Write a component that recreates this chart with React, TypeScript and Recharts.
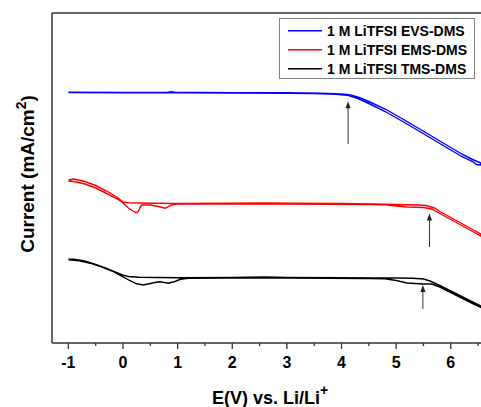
import React from 'react';
import { LineChart, Line, XAxis, YAxis, Legend, ReferenceLine, ReferenceDot } from 'recharts';

const FONT = '"Liberation Sans", Arial, Helvetica, sans-serif';

// Potential (V vs. Li/Li+) and current (offset, arbitrary units) – forward sweep then reverse sweep
const evsVoltage = [-1, 0, 0.8, 0.88, 0.95, 2, 3, 3.6, 3.9, 4.1, 4.2, 4.35, 4.5, 4.8, 5.2, 5.6, 6.0, 6.2, 6.4, 6.55,
  6.55, 6.47, 6.4, 6.2, 6.0, 5.6, 5.2, 4.8, 4.5, 4.3, 4.1, 3.9, 3.5, 3, 2, 1, 0, -1];
const evsCurrent = [25.07, 25.05, 25.06, 25.13, 25.07, 25.04, 25.02, 24.97, 24.92, 24.85, 24.75, 24.5, 24.15, 23.4, 22.15, 20.85, 19.55, 18.9, 18.35, 18.0,
  17.8, 17.85, 18.15, 18.65, 19.3, 20.6, 21.9, 23.15, 23.95, 24.45, 24.78, 24.88, 24.94, 24.98, 25.0, 25.02, 25.02, 25.04];

const emsVoltage = [-1, -0.9, -0.7, -0.5, -0.3, -0.1, 0, 0.1, 0.5, 1, 2, 2.6, 3, 4, 4.6, 5.0, 5.4, 5.55, 5.7, 5.8, 6.0, 6.2, 6.4, 6.55,
  6.55, 6.4, 6.2, 6.0, 5.8, 5.65, 5.5, 5.2, 5.0, 4.8, 4.5, 3, 2, 1, 0.9, 0.77, 0.65, 0.5, 0.34, 0.31, 0.28, 0.24, 0.18, 0.1, 0, -0.1, -0.3, -0.5, -0.7, -0.9, -1];
const emsCurrent = [16.3, 16.4, 16.15, 15.75, 15.2, 14.55, 14.1, 14.02, 13.97, 13.95, 13.97, 14.0, 13.97, 13.95, 13.9, 13.85, 13.8, 13.75, 13.5, 13.15, 12.55, 11.95, 11.35, 10.9,
  10.7, 11.15, 11.75, 12.35, 12.95, 13.4, 13.55, 13.6, 13.7, 13.82, 13.85, 13.9, 13.9, 13.9, 13.82, 13.47, 13.65, 13.8, 13.8, 13.55, 13.15, 13.03, 13.2, 13.5, 14.0, 14.4, 14.95, 15.5, 15.9, 16.15, 16.2];

const tmsVoltage = [-1, -0.9, -0.7, -0.5, -0.3, -0.1, 0, 0.1, 0.3, 1, 2, 2.6, 3, 4, 4.6, 5.0, 5.3, 5.5, 5.62, 5.8, 6.0, 6.2, 6.4, 6.55,
  6.55, 6.4, 6.2, 6.0, 5.8, 5.65, 5.5, 5.2, 5.0, 4.8, 4.5, 3, 2, 1.2, 1.05, 0.95, 0.83, 0.73, 0.65, 0.5, 0.37, 0.25, 0.12, 0, -0.2, -0.4, -0.6, -0.8, -0.95, -1];
const tmsCurrent = [8.37, 8.37, 8.2, 7.85, 7.45, 7.0, 6.78, 6.65, 6.57, 6.53, 6.55, 6.6, 6.55, 6.53, 6.5, 6.5, 6.47, 6.4, 6.2, 5.75, 5.2, 4.65, 4.1, 3.7,
  3.55, 3.95, 4.5, 5.05, 5.6, 5.9, 5.9, 6.0, 6.25, 6.42, 6.45, 6.5, 6.5, 6.48, 6.37, 6.15, 5.97, 6.07, 6.13, 5.95, 5.8, 5.92, 6.25, 6.62, 7.2, 7.62, 7.98, 8.22, 8.3, 8.32];

// Onset arrows: potential, arrow tip current, arrow tail current
const arrowVoltage = [4.12, 5.61, 5.49];
const arrowTip = [24.18, 12.95, 5.8];
const arrowTail = [19.9, 9.6, 3.4];

const seriesNames = ['1 M LiTFSI EVS-DMS', '1 M LiTFSI EMS-DMS', '1 M LiTFSI TMS-DMS'];
const seriesColors = ['#0000ff', '#ff0000', '#000000'];

const xTicks = [-1, -0.5, 0, 0.5, 1, 1.5, 2, 2.5, 3, 3.5, 4, 4.5, 5, 5.5, 6, 6.5];

const zip = (v: number[], c: number[]) => v.map((x, i) => ({ x, y: c[i] }));
const seriesData = [zip(evsVoltage, evsCurrent), zip(emsVoltage, emsCurrent), zip(tmsVoltage, tmsCurrent)];

const AXIS = '#333';

const XTick = (props: any) => {
  const { x, y, payload } = props;
  const v = payload.value;
  const major = Number.isInteger(v);
  return (
    <g>
      <line x1={x} x2={x} y1={y} y2={y + (major ? 6 : 3)} stroke={AXIS} strokeWidth={1.3} />
      {major && (
        <text x={x} y={y + 25} textAnchor="middle" fill="#000"
          style={{ fontFamily: FONT, fontWeight: 700, fontSize: 16 }}>{String(v)}</text>
      )}
    </g>
  );
};

const renderXTitle = () => (
  <text x={270} y={404} textAnchor="middle" fill="#000" style={{ fontFamily: FONT, fontWeight: 700, fontSize: 18 }}>
    E(V) vs. Li/Li<tspan dy={-9} fontSize={14}>+</tspan>
  </text>
);

const renderYTitle = () => (
  <text x={34} y={174} transform="rotate(-90 34 174)" textAnchor="middle" fill="#000"
    style={{ fontFamily: FONT, fontWeight: 700, fontSize: 19 }}>
    Current (mA/cm<tspan dy={-8} fontSize={14}>2</tspan><tspan dy={8}>)</tspan>
  </text>
);

const renderLegend = (props: any) => {
  const items = [...(props.payload || [])].sort(
    (a: any, b: any) => seriesNames.indexOf(a.value) - seriesNames.indexOf(b.value));
  return (
    <svg width={197} height={62} style={{ display: 'block' }}>
      <rect x={0.5} y={0.5} width={195} height={60} fill="#fff" stroke="#808080" strokeWidth={1} />
      {items.map((it: any, i: number) => (
        <g key={i}>
          <line x1={9} x2={43} y1={12.7 + i * 19} y2={12.7 + i * 19} stroke={it.color} strokeWidth={1.5} />
          <text x={48} y={17.7 + i * 19} fill="#000" style={{ fontFamily: FONT, fontWeight: 700, fontSize: 14 }}>{it.value}</text>
        </g>
      ))}
    </svg>
  );
};

const arrowHead = (p: any) => (
  <path d={`M${p.cx},${p.cy} L${p.cx - 2.6},${p.cy + 7} L${p.cx + 2.6},${p.cy + 7} Z`} fill="#222" />
);

export default function App() {
  return (
    <div style={{ position: 'absolute', left: 0, top: 0, width: 481, height: 407, overflow: 'hidden', background: '#fff' }}>
      <LineChart width={495} height={407} margin={{ top: 13, right: 6, bottom: 0, left: 0 }}>
        <XAxis dataKey="x" type="number" domain={[-1.3, 6.7]} ticks={xTicks} interval={0}
          tick={<XTick />} tickLine={false} tickSize={0} tickMargin={0} height={64}
          axisLine={{ stroke: AXIS, strokeWidth: 1.5 }} allowDataOverflow label={renderXTitle} />
        <YAxis type="number" domain={[0, 33]} tick={false} tickLine={false} width={52}
          axisLine={{ stroke: AXIS, strokeWidth: 1.5 }} allowDataOverflow label={renderYTitle} />
        <ReferenceLine y={33} stroke={AXIS} strokeWidth={1.5} ifOverflow="visible" />
        {arrowVoltage.map((v, i) => (
          <ReferenceLine key={'al' + i} segment={[{ x: v, y: arrowTail[i] }, { x: v, y: arrowTip[i] - 0.4 }]}
            stroke="#333" strokeWidth={1} ifOverflow="visible" />
        ))}
        {arrowVoltage.map((v, i) => (
          <ReferenceDot key={'ah' + i} x={v} y={arrowTip[i]} r={3} shape={arrowHead} ifOverflow="visible" />
        ))}
        {seriesData.map((d, i) => (
          <Line key={i} data={d} dataKey="y" name={seriesNames[i]} type="linear" stroke={seriesColors[i]}
            strokeWidth={1.4} dot={false} activeDot={false} isAnimationActive={false} />
        ))}
        <Legend layout="vertical" align="center" verticalAlign="middle" content={renderLegend}
          wrapperStyle={{ left: 279, top: 18, width: 197, height: 62 }} />
      </LineChart>
    </div>
  );
}
